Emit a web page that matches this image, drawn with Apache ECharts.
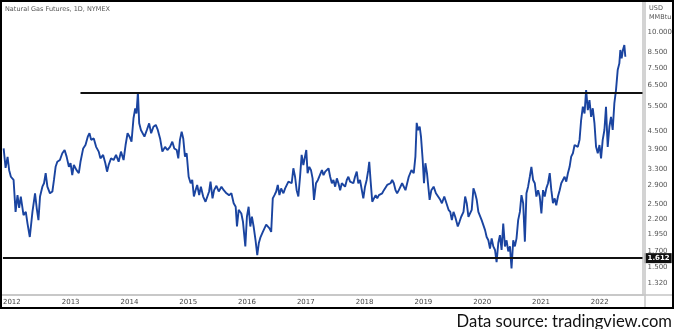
<!DOCTYPE html>
<html><head><meta charset="utf-8">
<script src="https://cdn.jsdelivr.net/npm/echarts@6/dist/echarts.min.js"></script>
<style>html,body{margin:0;padding:0;background:#fff}#c{width:675px;height:329px}</style>
</head><body><div id="c"></div>
<script>
// Decimal-year dates
const years = [2011.860,2011.893,2011.927,2011.954,2011.983,2012.029,2012.063,2012.096,2012.124,2012.152,2012.198,2012.237,2012.266,2012.305,2012.350,2012.394,2012.423,2012.452,2012.479,2012.519,2012.547,2012.575,2012.604,2012.648,2012.689,2012.716,2012.744,2012.773,2012.817,2012.858,2012.897,2012.931,2012.970,2012.998,2013.027,2013.054,2013.100,2013.139,2013.167,2013.213,2013.252,2013.291,2013.320,2013.349,2013.393,2013.433,2013.477,2013.506,2013.552,2013.590,2013.619,2013.646,2013.687,2013.731,2013.772,2013.816,2013.856,2013.900,2013.934,2013.968,2014.002,2014.035,2014.069,2014.098,2014.120,2014.144,2014.166,2014.195,2014.228,2014.255,2014.296,2014.335,2014.369,2014.408,2014.448,2014.482,2014.521,2014.560,2014.606,2014.645,2014.690,2014.729,2014.763,2014.804,2014.831,2014.859,2014.888,2014.915,2014.944,2014.973,2015.007,2015.041,2015.068,2015.096,2015.125,2015.152,2015.186,2015.215,2015.254,2015.294,2015.321,2015.355,2015.379,2015.413,2015.440,2015.480,2015.519,2015.565,2015.604,2015.650,2015.694,2015.734,2015.773,2015.807,2015.829,2015.858,2015.903,2015.931,2015.971,2015.998,2016.027,2016.056,2016.083,2016.112,2016.145,2016.174,2016.201,2016.230,2016.269,2016.298,2016.326,2016.353,2016.382,2016.411,2016.438,2016.467,2016.496,2016.523,2016.551,2016.580,2016.619,2016.648,2016.675,2016.704,2016.733,2016.760,2016.788,2016.817,2016.844,2016.873,2016.902,2016.929,2016.958,2016.980,2017.008,2017.030,2017.059,2017.088,2017.115,2017.139,2017.173,2017.206,2017.240,2017.274,2017.301,2017.330,2017.359,2017.386,2017.414,2017.443,2017.470,2017.499,2017.528,2017.555,2017.584,2017.612,2017.640,2017.668,2017.697,2017.724,2017.753,2017.782,2017.809,2017.837,2017.866,2017.893,2017.922,2017.951,2017.978,2018.007,2018.035,2018.062,2018.079,2018.103,2018.130,2018.159,2018.188,2018.215,2018.243,2018.272,2018.299,2018.328,2018.357,2018.384,2018.413,2018.441,2018.469,2018.497,2018.526,2018.553,2018.582,2018.638,2018.695,2018.751,2018.797,2018.836,2018.864,2018.886,2018.909,2018.937,2018.959,2018.988,2019.010,2019.034,2019.061,2019.078,2019.106,2019.135,2019.174,2019.213,2019.247,2019.287,2019.315,2019.355,2019.389,2019.428,2019.457,2019.484,2019.512,2019.541,2019.585,2019.614,2019.643,2019.682,2019.710,2019.737,2019.766,2019.795,2019.822,2019.851,2019.880,2019.907,2019.935,2019.964,2019.991,2020.020,2020.049,2020.076,2020.105,2020.133,2020.161,2020.189,2020.218,2020.245,2020.274,2020.302,2020.330,2020.358,2020.387,2020.415,2020.443,2020.472,2020.499,2020.528,2020.556,2020.584,2020.612,2020.641,2020.668,2020.697,2020.726,2020.753,2020.781,2020.810,2020.837,2020.866,2020.895,2020.922,2020.951,2020.979,2021.007,2021.035,2021.064,2021.091,2021.120,2021.149,2021.176,2021.204,2021.233,2021.260,2021.289,2021.318,2021.345,2021.374,2021.402,2021.430,2021.458,2021.487,2021.514,2021.543,2021.572,2021.599,2021.627,2021.656,2021.683,2021.712,2021.741,2021.768,2021.797,2021.825,2021.853,2021.881,2021.910,2021.937,2021.966,2021.995,2022.022,2022.050,2022.079,2022.106,2022.135,2022.164,2022.191,2022.220,2022.248,2022.276,2022.305,2022.333,2022.350,2022.372,2022.394,2022.418,2022.435];
// Natural gas futures price, USD/MMBtu
const prices = [3.91,3.34,3.65,3.28,3.11,3.03,2.34,2.68,2.42,2.65,2.28,2.34,2.13,1.91,2.34,2.72,2.41,2.19,2.65,2.87,2.95,3.20,2.87,2.72,2.76,3.03,3.37,3.51,3.56,3.76,3.86,3.66,3.37,3.47,3.15,3.42,3.28,3.20,3.51,3.91,4.02,4.30,4.42,4.19,4.24,3.96,3.81,3.61,3.71,3.47,3.24,3.42,3.61,3.56,3.71,3.51,3.81,3.56,4.02,4.42,4.30,4.13,4.99,5.41,5.19,6.15,4.79,4.54,4.48,4.30,4.54,4.79,4.42,4.66,4.73,4.54,4.24,3.81,3.96,3.86,3.96,4.13,3.91,3.86,3.61,4.19,4.48,4.24,3.66,3.76,3.11,2.95,3.03,2.65,2.79,2.91,2.68,2.87,2.65,2.54,2.51,2.76,2.99,2.61,2.79,2.89,2.76,2.87,2.79,2.72,2.68,2.72,2.51,2.44,2.08,2.38,2.31,2.16,1.77,2.25,2.44,2.08,2.25,2.08,1.86,1.65,1.82,1.91,1.99,1.97,2.11,2.13,2.05,1.99,2.61,2.68,2.76,2.91,2.68,2.83,2.72,2.83,2.87,2.99,3.03,2.95,3.33,3.11,2.79,2.65,3.11,3.71,3.42,3.47,3.86,3.20,3.37,3.28,3.07,2.58,2.95,3.03,3.07,3.28,3.15,3.24,3.28,3.33,3.11,2.95,3.03,2.87,3.07,2.95,2.79,2.95,2.99,2.87,3.03,3.11,2.99,3.03,2.95,3.11,3.24,2.95,3.03,3.07,2.61,2.87,3.03,3.28,3.51,2.99,2.54,2.61,2.68,2.61,2.68,2.65,2.72,2.79,2.76,2.91,2.87,2.95,3.03,2.95,2.79,2.72,2.79,2.95,2.79,3.11,3.28,3.20,3.66,4.81,4.54,4.66,4.30,3.56,2.95,3.47,3.20,2.95,2.58,2.79,2.87,2.72,2.76,2.58,2.51,2.65,2.65,2.38,2.34,2.19,2.34,2.25,2.08,2.16,2.25,2.34,2.65,2.51,2.25,2.28,2.38,2.83,2.72,2.58,2.34,2.31,2.19,2.16,2.02,1.91,1.86,1.74,1.89,1.77,1.72,1.56,1.82,1.94,1.72,2.13,1.77,1.86,1.70,1.77,1.48,1.86,1.77,1.89,2.19,2.34,2.68,2.51,1.84,2.72,2.87,3.11,3.37,3.03,2.95,2.65,2.79,2.65,2.31,2.79,2.65,2.83,2.95,3.20,2.79,2.51,2.61,2.47,2.65,2.79,2.95,2.99,3.11,2.99,3.20,3.37,3.66,3.76,4.02,4.08,3.96,4.19,4.92,5.48,5.19,6.27,5.33,5.78,5.05,5.41,4.79,3.96,3.76,4.02,3.61,4.19,4.54,5.48,3.96,4.66,5.05,4.54,5.63,6.27,7.37,7.78,8.67,8.10,8.67,9.02,8.21];
// Axis tick labels
const priceTicks = [10, 8.5, 7.5, 6.5, 5.5, 4.5, 3.9, 3.3, 2.9, 2.5, 2.2, 1.95, 1.7, 1.5, 1.32];
const yearTicks = [2012,2013,2014,2015,2016,2017,2018,2019,2020,2021,2022];
// Horizontal levels
const resistanceStart = 2013.167;
const resistanceLevel = 6.15;
const supportLevel = 1.612;

const xMin = 2011.848, xMax = 2022.727;
const data = years.map((t, i) => [t, prices[i]]);

const chart = echarts.init(document.getElementById('c'), null, {renderer: 'canvas'});
const gray = '#555';
chart.setOption({
  animation: false,
  backgroundColor: '#fff',
  grid: {left: 2, right: 30, top: 2, bottom: 34},
  xAxis: {
    type: 'value', min: xMin, max: xMax,
    axisLine: {show: true, lineStyle: {color: '#c4c4c4', width: 1.5}},
    axisTick: {show: false},
    splitLine: {show: false},
    axisLabel: {customValues: yearTicks, formatter: v => String(Math.round(v)), color: '#444', fontSize: 7, margin: 4, fontFamily: 'DejaVu Sans'}
  },
  yAxis: {
    type: 'log', logBase: 10, min: 1.195, max: 12.78, position: 'right',
    axisLine: {show: true, lineStyle: {color: '#c4c4c4', width: 1.5}},
    axisTick: {show: false},
    splitLine: {show: false},
    axisLabel: {customValues: priceTicks, formatter: v => Number(v).toFixed(3), color: gray, fontSize: 7, margin: 5, fontFamily: 'DejaVu Sans'}
  },
  series: [{
    type: 'line', data: data, showSymbol: false, symbol: 'none',
    lineStyle: {color: '#1a44a0', width: 1.9},
    markLine: {
      silent: true, symbol: ['none', 'none'],
      lineStyle: {color: '#111', width: 2, type: 'solid'},
      data: [
        [{coord: [resistanceStart, resistanceLevel]}, {coord: [xMax, resistanceLevel]}],
        {yAxis: supportLevel, label: {show: true, position: 'end', formatter: '1.612', backgroundColor: '#111', color: '#fff', fontSize: 7, fontWeight: 'bold', padding: [2, 2, 1, 3], distance: 2, fontFamily: 'DejaVu Sans'}}
      ],
      label: {show: false}
    }
  }],
  graphic: [
    {type: 'rect', shape: {x: 1, y: 1, width: 672, height: 307}, style: {fill: 'none', stroke: '#000', lineWidth: 2}, z: 100},
    {type: 'line', shape: {x1: 645, y1: 2, x2: 645, y2: 308}, style: {stroke: '#c4c4c4', lineWidth: 1.5}, z: 50},
    {type: 'line', shape: {x1: 2, y1: 295, x2: 672, y2: 295}, style: {stroke: '#c4c4c4', lineWidth: 1.5}, z: 50},
    {type: 'text', x: 5, y: 9, style: {text: 'Natural Gas Futures, 1D, NYMEX', fill: '#555', font: '6.5px "DejaVu Sans"', verticalAlign: 'middle'}},
    {type: 'text', x: 649, y: 8, style: {text: 'USD', fill: '#555', font: '6.5px "DejaVu Sans"', verticalAlign: 'middle'}},
    {type: 'text', x: 649, y: 17, style: {text: 'MMBtu', fill: '#555', font: '6.5px "DejaVu Sans"', verticalAlign: 'middle'}},
    {type: 'text', x: 672, y: 322, style: {text: 'Data source: tradingview.com', fill: '#111', font: '16.6px Lato', align: 'right', verticalAlign: 'middle'}}
  ]
});
</script></body></html>
